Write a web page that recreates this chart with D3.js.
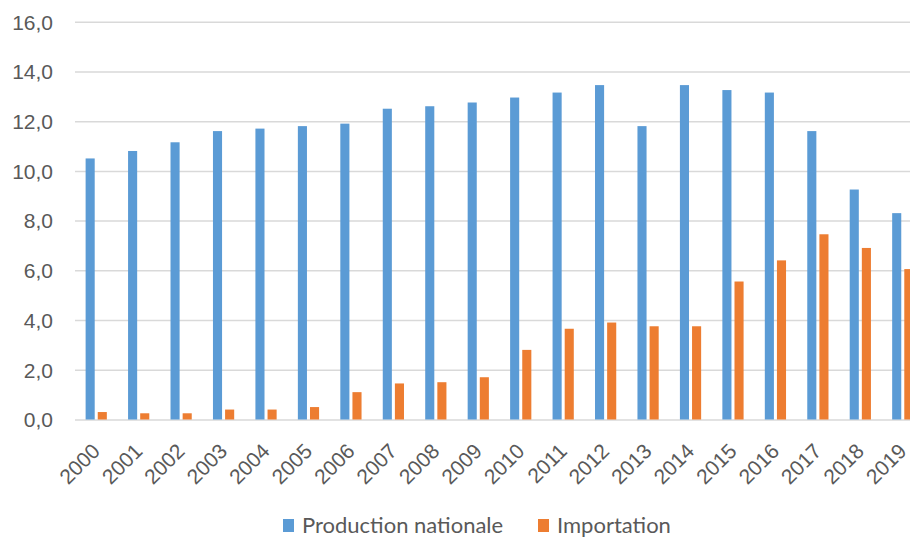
<!DOCTYPE html>
<html>
<head>
<meta charset="utf-8">
<script src="https://cdn.jsdelivr.net/npm/d3@7"></script>
<style>
  html, body { margin: 0; padding: 0; background: #fff; overflow: hidden; }
  svg { display: block; font-family: Lato, "Noto Sans", sans-serif; }
  .grid line { stroke: #d9d9d9; stroke-width: 1.5; }
  .grid path { display: none; }
  .tick text { fill: #595959; font-size: 21px; }
</style>
</head>
<body>
<svg id="chart"></svg>
<script>
// ---- data ----
const years = ["2000","2001","2002","2003","2004","2005","2006","2007","2008","2009",
               "2010","2011","2012","2013","2014","2015","2016","2017","2018","2019"];
const production = [10.5, 10.8, 11.15, 11.6, 11.7, 11.8, 11.9, 12.5, 12.6, 12.75,
                    12.95, 13.15, 13.45, 11.8, 13.45, 13.25, 13.15, 11.6, 9.25, 8.3];
const importation = [0.3, 0.25, 0.25, 0.4, 0.4, 0.5, 1.1, 1.45, 1.5, 1.7,
                     2.8, 3.65, 3.9, 3.75, 3.75, 5.55, 6.4, 7.45, 6.9, 6.05];
const seriesNames = ["Production nationale", "Importation"];
const colors = ["#5b9bd5", "#ed7d31"];
const yTicks = [0, 2, 4, 6, 8, 10, 12, 14, 16];

const W = 910, H = 539;
const plot = { left: 75, right: 924, top: 21.7, bottom: 419.5 };

const svg = d3.select("#chart").attr("width", W).attr("height", H);

const x0 = d3.scaleBand()
    .domain(years)
    .range([plot.left, plot.right])
    .paddingInner(0.5)
    .paddingOuter(0.25);

const x1 = d3.scaleBand()
    .domain(seriesNames)
    .range([0, x0.bandwidth()])
    .paddingInner(0.25);

const y = d3.scaleLinear()
    .domain([0, 16])
    .range([plot.bottom, plot.top]);

const fmt = v => d3.format(".1f")(v).replace(".", ",");

// gridlines + y labels
const yAxis = svg.append("g")
    .attr("class", "grid")
    .attr("transform", `translate(${plot.left},0)`)
    .call(d3.axisLeft(y).tickValues(yTicks).tickSize(-(W - plot.left)).tickFormat(fmt).tickPadding(22));
yAxis.selectAll(".tick text").attr("dy", "0.35em");

// bars
const rows = years.map((yr, i) => ({ yr, vals: [production[i], importation[i]] }));

const groups = svg.append("g").selectAll("g")
    .data(rows)
    .join("g")
    .attr("transform", d => `translate(${x0(d.yr)},0)`);

groups.selectAll("rect")
    .data(d => d.vals.map((v, k) => ({ v, k })))
    .join("rect")
    .attr("x", d => x1(seriesNames[d.k]))
    .attr("width", x1.bandwidth())
    .attr("y", d => y(d.v))
    .attr("height", d => y(0) - y(d.v))
    .attr("fill", d => colors[d.k]);

// x labels (rotated)
const xAxis = svg.append("g")
    .attr("transform", `translate(0,${plot.bottom})`)
    .call(d3.axisBottom(x0).tickSize(0).tickPadding(0));
xAxis.select(".domain").remove();
xAxis.selectAll(".tick text")
    .attr("text-anchor", "end")
    .attr("dy", 0)
    .attr("y", 0)
    .attr("transform", "translate(5,33) rotate(-45)");

// legend
const legend = svg.append("g").attr("transform", "translate(283,519)");
const legX = [0, 255];
seriesNames.forEach((name, k) => {
  const g = legend.append("g").attr("transform", `translate(${legX[k]},0)`);
  g.append("rect").attr("width", 11).attr("height", 13).attr("fill", colors[k]);
  g.append("text")
    .attr("x", 19).attr("y", 14)
    .attr("fill", "#595959")
    .attr("font-size", 22)
    .text(name);
});
</script>
</body>
</html>
